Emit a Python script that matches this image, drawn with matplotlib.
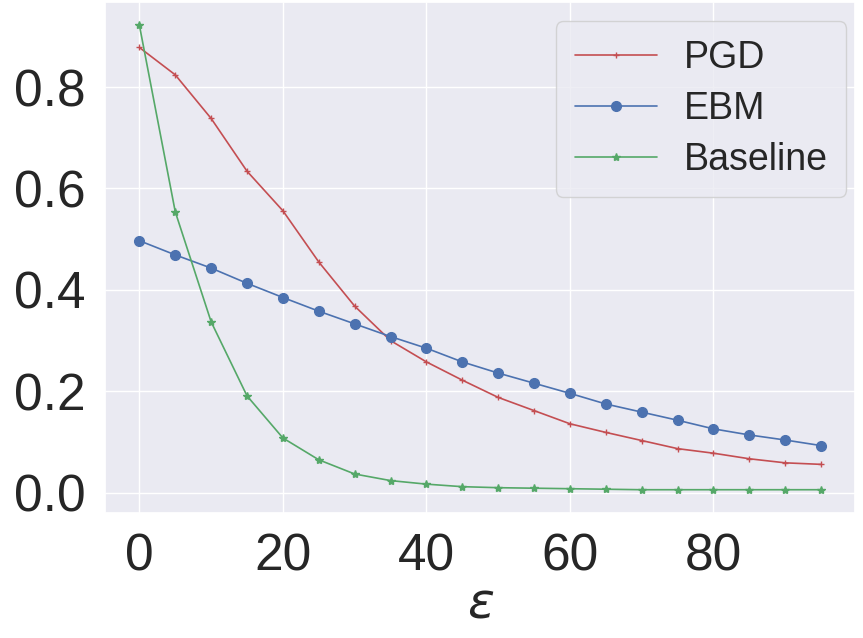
import matplotlib
matplotlib.use("Agg")
import matplotlib.pyplot as plt
import seaborn as sns
import numpy as np

# perturbation budget
eps = list(range(0, 100, 5))

pgd = [0.878, 0.824, 0.738, 0.634, 0.556, 0.455, 0.368, 0.300, 0.258, 0.222,
       0.188, 0.162, 0.136, 0.119, 0.103, 0.087, 0.078, 0.067, 0.059, 0.056]
ebm = [0.497, 0.469, 0.443, 0.413, 0.385, 0.358, 0.333, 0.308, 0.285, 0.258,
       0.236, 0.216, 0.196, 0.175, 0.159, 0.143, 0.126, 0.114, 0.104, 0.093]
baseline = [0.922, 0.554, 0.337, 0.191, 0.108, 0.065, 0.037, 0.024, 0.017, 0.012,
            0.010, 0.009, 0.008, 0.007, 0.006, 0.006, 0.006, 0.006, 0.006, 0.006]

sns.set_theme(style="darkgrid")
plt.rcParams['font.family'] = ['Liberation Sans', 'DejaVu Sans']

fig = plt.figure(figsize=(8.63, 6.38), dpi=100)
ax = fig.add_axes([0.122, 0.196, 0.869, 0.801])

ax.plot(eps, pgd, c='#c44e52', marker='+', markersize=5, lw=1.2, label='PGD')
ax.plot(eps, ebm, c='#4c72b0', marker='o', markersize=7, lw=1.2, label='EBM')
ax.plot(eps, baseline, c='#55a868', marker='*', markersize=6, lw=1.2, label='Baseline')

ax.set_xticks([0, 20, 40, 60, 80])
ax.set_yticks([0.0, 0.2, 0.4, 0.6, 0.8])
ax.tick_params(labelsize=37, pad=8)
ax.set_xlabel(r'$\varepsilon$', fontsize=36, labelpad=0)
ax.legend(loc='upper right', bbox_to_anchor=(0.988, 0.962), fontsize=27,
          handlelength=2.2, borderpad=0.5, labelspacing=0.4, handletextpad=0.7,
          borderaxespad=0)

fig.savefig('out.png', dpi=100)
